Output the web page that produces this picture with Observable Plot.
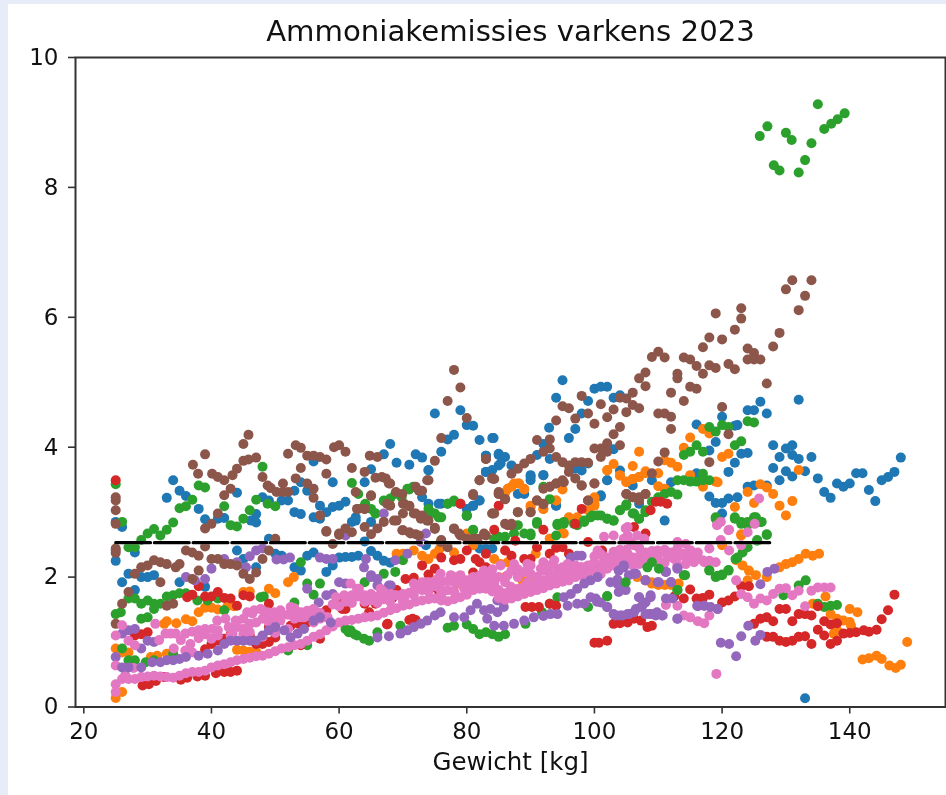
<!DOCTYPE html>
<html><head><meta charset="utf-8">
<script src="https://cdn.jsdelivr.net/npm/d3@7"></script>
<script src="https://cdn.jsdelivr.net/npm/@observablehq/plot@0.6"></script>
<style>
html,body{margin:0;background:#e6edf8;overflow:hidden}
#c{position:absolute;left:8px;top:4px;width:938px;height:791px;background:#fff}
#c svg{display:block;background:#fff;filter:blur(.6px)}
</style></head><body><div id="c"></div>
<script>
const chartTitle="Ammoniakemissies varkens 2023";
const xLabel="Gewicht [kg]";
const xTicks=[20,40,60,80,100,120,140];
const yTicks=[0,2,4,6,8,10];
const limit=[[25,2.53],[127,2.53],[128,2.53]];

const blue=[[25,2.85],[26,2.77],[33,3.22],[34,3.49],[35,3.33],[36,3.25],[38,3.05],[39,2.89],[41,2.9],[42,2.91],[44,3.3],[46.2,2.87],[47,2.97],[47,2.84],[48,3.23],[49,3.18],[51,3.18],[52,3.18],[53,3.33],[54,3.46],[55,3.33],[53,3.0],[54,2.97],[56,3.78],[56,2.92],[57,2.9],[57,3.1],[58,3.0],[59,3.46],[59,3.08],[60,3.1],[61,3.16],[62,2.85],[62.6,2.92],[64,3.46],[65,3.66],[65,2.85],[67,3.89],[68,4.05],[69,3.76],[71,3.73],[72,3.89],[73,3.84],[74,3.65],[75,4.52],[76,3.93],[77,4.12],[78,4.19],[79,4.57],[80,4.34],[81,4.33],[82,4.11],[84,4.14],[85,3.88],[83,3.87],[83,3.62],[84,3.65],[85,3.72],[73,3.23],[74,3.13],[76,3.13],[77,3.13],[80,2.94],[81,3.1],[82,3.18],
[95,5.03],[94,4.76],[92.9,4.3],[97,4.28],[96,4.14],[99,4.71],[100,4.9],[101,4.93],[102,4.93],[103,4.76],[104,4.8],[98,4.52],[84.2,4.14],[83,3.87],[85,3.9],[86,3.85],[85.3,3.75],[87,3.72],[88,3.28],[89,3.28],[90,3.57],[90,3.49],[91,3.88],[92,4.05],[92,3.57],[93,3.82],[97,3.67],[98,3.64],[99,3.75],[102,3.49],[104,3.64],[103,3.97],[101,3.24],[94,3.1],[109,3.49],[106,3.41],[107,3.13],[111,2.87],[119,4.08],[118,3.95],[116,4.35],[120,4.47],[122.4,4.34],[122,4.33],[124,4.57],[125,4.57],[126,4.7],[127,4.52],[132,4.73],[124,3.91],[123,3.9],[122,3.76],[121,3.62],[116,3.6],[112,3.46],[118,3.24],[119,3.14],[120,3.14],[121,3.21],[122.4,3.23],[124,3.39],[125,3.41],[127,3.41],[120,2.98],
[128,4.03],[129,3.85],[130,3.98],[131,4.03],[131,3.88],[132,3.82],[134,3.85],[128,3.68],[129,3.49],[130,3.63],[131,3.55],[133,3.63],[135,3.52],[136,3.31],[137,3.22],[138,3.44],[139,3.39],[140,3.44],[141,3.6],[142,3.6],[143,3.34],[144,3.17],[145,3.49],[146,3.54],[147,3.62],[148,3.84],[133,.135],
[25,2.25],[26,1.92],[27,2.05],[28,2.38],[28,1.8],[29,2],[30,2],[31,2.03],[35,1.92],[39,1.85],[44,2.41],[45,2.28],[47,2.15],[49,2.59],[50,2.36],[51,2.33],[53,2.15],[54,2.1],[55,2.33],[56,2.38],[58,2.08],[59,2.18],[60,2.3],[61,2.31],[62,2.31],[63,2.33],[65,2.4],[66,2.33],[67,2.25],[68,2.22],[62.6,2.87],[64,2.55],[74,3.64],[75.6,3.13],[79,3.13],[80,3.05],[81,3.1],[82,3.18],[83,3.62],[90,3.54],[92,3.57],[102,3.49],[94,3.1],[101,3.26],[73.6,2.49],[82,2.44],[83,2.44],[84,2.44]];

const orange=[[25,.14],[26,.23],[25,.9],[26,.84],[27,.84],[30.5,.77],[31.5,.79],[33,.82],[34,.82],[32.6,1.28],[33,1.32],[34.5,1.29],[36,1.35],[37,1.32],[38,1.46],[39,1.53],[40,1.53],[41,1.5],[42.5,1.55],[43.5,1.55],[45,1.77],[46,1.78],[49,1.82],[50,1.75],[52,1.92],[52.9,2],[44,.88],[45,.87],[46,.85],[47,.85],
[78.8,1.9],[69,2.36],[70,2.36],[71.7,2.41],[73,2.33],[74,2.28],[75,2.36],[75.7,2.43],[78,2.38],[80,2.67],[81,2.49],[84.3,2.28],[85.3,2.2],[86.4,2.23],[90.8,2.36],[93,2.59],[95.2,2.67],[96,2.92],[97.3,2.92],[99,3.03],[100,3.13],[100,3.23],[86.4,3.36],[87.4,3.44],[88.2,3.44],[89,3.36],[90,3.1],[92,3.05],[94,3.18],[102,3.64],[104,3.56],[105,3.46],[106,3.51],[107,3.54],[108,3.6],[88.7,1.95],[90,2.03],[86,2],[106.7,2],[108,1.95],[109,1.9],[110,1.88],[111,1.88],[112,1.88],[113.2,1.9],
[107,3.93],[102,3.65],[103,3.74],[104,3.57],[105,3.47],[106,3.71],[106,3.51],[107,3.54],[108,3.63],[110,3.6],[110,3.4],[111,3.36],[111,3.8],[112,3.76],[113,3.7],[114,3.99],[115,4.15],[117,4.28],[118,4.21],[119,3.47],[117,3.39],[115,3.57],[120,3.85],[121,3.9],[124,3.31],[126,3.43],[127,3.38],[128,3.28],[129,3.1],[130,2.95],[131,3.17],[122,3.08],[125,3.14],[132,3.65],[88,3.44],[87,3.39],[89,3.35],[86,3.3],[94,3.18],[95,3.35],[100,3.2],[100,3.1],[90,3.08],[92,3.05],[96,2.9],[95,2.68],[93,2.59],[123,2.64],
[135.2,2.36],[134.2,2.33],[133.1,2.36],[132,2.28],[131,2.23],[130,2.2],[129,2.15],[127,2],[125.3,2.03],[124.2,2.1],[123.2,2.18],[122.2,2.26],[124,1.95],[136.2,1.7],[134.2,1.59],[140,1.51],[141.2,1.46],[137,1.43],[138,1.36],[139,1.33],[140,1.31],[140.2,1.25],[138,1.18],[137.5,1.13],[142,.73],[143,.75],[144.2,.79],[145,.74],[146.2,.64],[147.2,.6],[148,.65],[149,1],[123,2.66],[120,2.49],[119.3,3.46],[109,1.92],[112,1.92]];

const green=[[25,3.43],[26,2.85],[25,1.43],[25.8,1.46],[27,2.46],[28,2.46],[29,2.57],[30,2.67],[31,2.74],[32,2.64],[33,2.73],[34,2.84],[35,3.06],[36,3.09],[37,3.19],[38,3.41],[39,3.38],[42,3.09],[43,2.8],[44,2.78],[45,2.9],[46,3.03],[47,3.19],[48,3.7],[48.8,3.13],[50,3.09],[62,3.45],[63,3.28],[64,3.1],[65.7,2.98],[67,3.17],[68,3.21],[69.8,3.23],[71,3.35],[71.6,3.39],[74,3.05],[75,2.98],[76,2.92],[77,3.13],[78,3.18],[80,2.95],[81,2.72],[85,2.62],
[27,1.67],[28,1.67],[29,1.59],[30,1.64],[31,1.59],[31,1.51],[32,1.59],[33,1.7],[34,1.72],[35,1.75],[36,1.75],[37.8,1.64],[39.4,1.64],[41,1.67],[42,1.49],[47.7,1.69],[48.2,1.7],[53,1.61],[54,2.23],[55,1.9],[57,1.9],[56,1.73],[26,.9],[29,1.36],[30,1.38],[27,.72],[28,.72],[29.7,.69],[31,.72],[34,.82],[52,.87],[55,.95],[61,1.2],[61.5,1.15],[62.4,1.12],[61.8,1.18],[62.8,1.1],[63.9,1.05],[64.7,1.02],[66,1.15],[69.6,1.25],[77,1.22],[78,1.25],[80,1.27],[81,1.2],[82,1.12],[83,1.15],[84,1.12],[85,1.08],[86,1.12],[89.2,1.28],[91.8,1.46],[93,1.59],[94.2,1.69],[102,1.7],[99,1.54],
[64.1,3.13],[65,3.05],[65.7,2.98],[67,3.18],[68.8,3.28],[70.7,3.36],[74.3,3],[75.6,2.92],[78,3.16],[80,2.95],[81,2.73],[84.3,2.59],[86,2.62],[87.4,2.67],[89,2.67],[90,2.67],[91,2.82],[94.2,2.8],[95.2,2.82],[96.8,2.82],[98.4,2.85],[99.4,2.92],[100.5,2.95],[102,2.9],[103,2.87],[104,3.03],[105,3.1],[106.2,2.98],[107,2.9],[108,3],[67,2.05],[68.8,2.08],[64,1.92],[70,2.26],[92,3.39],[93,3.2],
[114,3.88],[115,3.93],[116,4.03],[117,3.93],[118,4.31],[119,4.24],[120,4.34],[121,4.31],[124,4.4],[125,4.38],[122,4.03],[123,4.09],[113,3.49],[114,3.49],[115,3.47],[116,3.47],[117,3.59],[117,3.49],[118,3.49],[104,3.03],[105,3.12],[106,2.98],[107,2.9],[108,3.03],[109,3.16],[110,3.23],[111,3.28],[112,3.31],[113,3.27],[119,2.92],[122,2.92],[123,2.85],[124,2.8],[125,2.92],[126,2.85],[127,2.65],[125.5,2.57],[94.2,2.82],[95.2,2.85],[97.3,2.8],[98.4,2.87],[99.7,2.95],[101,2.95],[102,2.9],[103,2.87],[91,2.85],[88,2.8],[90,2.64],[94,2.64],
[127,2.66],[125.5,2.56],[124,2.46],[123.2,2.38],[122.4,2.3],[121,2.11],[120,2.04],[119,2],[118,2.11],[114,2.03],[113,1.8],[133.1,1.95],[132,1.87],[129.6,1.72],[135,1.59],[136,1.54],[137,1.56],[138,1.57],[119,2.9],[122,2.9],[123,2.82],[124,2.85],[125.3,2.92],[126.2,2.85],
[125.9,8.79],[127.1,8.94],[128.1,8.34],[129,8.26],[130,8.84],[130.9,8.73],[132,8.23],[133,8.42],[134,8.68],[135,9.28],[136,8.9],[137.1,8.98],[138.1,9.05],[139.2,9.14]];

const greenTop=[[110.1,2.13],[108.3,2.15],[109,2.23],[114.2,2.03],[118,2.1],[119.3,2.02],[120,2.03],[121,2.1],[113,1.8],[102,1.71],[104.9,1.92],[122.1,2.28]];

const red=[[25,3.49],[29.2,.33],[30.2,.35],[31.3,.4],[32.6,.46],[35.2,.42],[36.2,.45],[37.8,.47],[39,.48],[40.7,.52],[42,.54],[43,.54],[44,.56],[28,1.1],[29,1.12],[30,1.15],[36.2,1.69],[37,1.73],[38,1.86],[39,1.7],[40,1.7],[41,1.77],[42,1.68],[43,1.67],[44,1.56],[45,1.72],[46,1.7],[49,1.59],[39,.89],[40,.97],[41,1.02],[42,1.05],[43,1.12],[46,1.1],[47,.97],[48,.97],[49,1],[50,1.07],[49,1.23],[52.4,1.25],[53.7,1.28],[55,1.3],[57,1.05],[58,1.49],[61,1.51],[60,1.59],[54,.95],[60.5,1.51],[67.6,1.28],[71.5,1.36],
[62,1.69],[64.7,1.46],[65.7,1.59],[67,1.67],[68.3,1.67],[69,1.8],[70.4,1.97],[71.7,1.99],[73,2.18],[74,2.04],[75,2.13],[76,2.3],[78,2.26],[79,2.28],[80,2.41],[81.4,2.28],[82,2.23],[83,2.36],[83,2.15],[81,2.07],[86,2.41],[87,2.33],[89,2.28],[90,2.28],[91,2.46],[93,2.36],[94,2.45],[95,2.46],[96,2.36],[99,2.54],[101.2,2.41],[73.8,1.82],[75,1.84],[75.7,1.77],[67.5,1.27],[71,1.34],[72,1.34],[64,1.59],[84.3,2.73],[85,3.1],[92,2.73],[97,2.82],[98,3.05],[79,3.13],[89.2,1.54],[90.2,1.54],[91.3,1.54],[93,1.59],[94,1.56],[87.6,2.56],[88,1.79],[100,.99],[100.7,.99],[102,1.02],[103,1.28],[104,1.29],[105.2,1.3],[106.2,1.36],[107.3,1.33],[108.3,1.23],[109,1.25],[106.2,2.77],[108,2.67],
[110.4,3.16],[111.4,3.13],[108.8,3.03],[109.6,3.16],[115,1.81],[112.5,1.7],[114,1.67],[116,1.67],[117,1.68],[118,1.73],[120,1.61],[121,1.64],[122,1.7],[123,1.86],[124.2,1.86],[125,1.28],[126,1.36],[127,1.38],[128,1.32],[129,1.51],[130,1.51],[131,1.32],[132,1.43],[133,1.43],[134,1.41],[135,1.55],[135,1.19],[136,1.1],[136,1.32],[137,1.27],[138,1.29],[127,1.08],[128,1.08],[129,1.02],[130,1],[131,1.02],[132,1.08],[133,1.09],[134,.97],[137,.97],[138,1.02],[139,1.13],[140,1.14],[141,1.15],[142.2,1.18],[143,1.16],[144.2,1.19],[145,1.35],[146,1.49],[147,1.73]];

const purple=[[25,.77],[26,1.13],[27,1.18],[28,1.2],[29,.9],[30,1.02],[31,1],[36,2],[37.4,1.95],[39,1.97],[40,2.13],[42,2.28],[44,2.23],[45.4,2.15],[46,2.32],[47,2.41],[48,2.44],[50.2,2.27],[51.3,2.27],[52.3,2.3],[57,2.3],[58,2.28],[59,2.28],[55,1.82],[58,1.72],[59,1.74],[60,1.92],[61,1.9],[62.6,1.7],[61,2.64],[56.8,1.61],
[64.2,2.28],[63.9,2.15],[65,2],[66,1.87],[67,2.98],[67.8,1.87],[73.6,2.67],[72.8,2.54],[70.7,2.36],[68.8,2.26],[96.3,2.3],[97.3,2.33],[98,2.33],[85.8,1.54],[84.8,1.64],[65,2.03],[66,1.97],[68.1,1.87],[101,2.36]];

const purpleTop=[[26,.61],[27,.61],[29,.61],[30.7,.69],[32,.69],[33,.72],[34,.72],[35,.74],[36,.77],[38,.79],[39.4,.82],[41,.87],[42,.97],[43,1.02],[44,1.02],[45,1.02],[46,1.02],[47,1.02],[48,1.1],[49,1.18],[50,1.23],[51.4,1.18],[52.4,1.07],[53.5,1.13],[54.5,1.2],[56,1.33],[57,1.38],[58.7,1.3],
[66,1.07],[67.8,1.09],[69.6,1.13],[70.7,1.18],[71.7,1.23],[72.8,1.28],[73.8,1.33],[75,1.41],[75.9,1.46],[78,1.38],[79.6,1.38],[80.6,1.49],[81.6,1.59],[82.7,1.49],[83.7,1.51],[84.8,1.46],[83.2,1.36],[84.3,1.25],[85.8,1.25],[87.4,1.28],[89,1.33],[90.5,1.38],[92,1.4],[93.1,1.43],[94.2,1.43],[95.8,1.56],[95.2,1.69],[96.3,1.74],[97.3,1.82],[98.4,1.9],[99.4,1.95],[100.5,2],[97.3,1.59],[98.4,1.59],[100.2,1.67],[101,1.61],[102,1.54],[103,1.43],[104,1.41],[105.2,1.43],[106.2,1.46],[107,1.69],[108,1.61],[108.6,1.43],[103.6,1.9],[104.6,1.82],[105.4,2.03],[106.5,2.05],[104.6,2.15],[103.6,1.96],
[104.6,2.18],[103.8,2.1],[106.2,2.05],[108,1.95],[110.1,1.92],[112,1.92],[111.2,2.08],[113,2.13],[103.8,1.77],[104.9,1.8],[102.5,1.92],[99.4,1.69],[100.4,1.62],[102,1.54],[107,1.69],[108.8,1.72],[107.5,1.56],[106.5,1.51],[105.4,1.43],[103.3,1.41],[104.4,1.41],[109,1.43],[110.6,1.41],[109.8,1.46],[113,1.36],[116.1,1.56],[117.2,1.56],[119.3,1.51],
[107.3,1.54],[108,1.43],[108.8,1.69],[109.6,1.41],[110.7,1.41],[111.2,1.67],[112.2,1.67],[113,1.36],[116.2,1.55],[117.2,1.56],[118.2,1.54],[119.3,1.51],[111.2,2.08],[109.9,1.92],[108,1.95],[112,1.92],[113,2.14],[119.8,.99],[121.1,.97],[122.2,.78],[123,1.09],[124.1,1.25],[125.2,1.02],[126,1.11],[126,1.89],[127.1,2.08],[128.2,2.13]];

const brown=[[25,3.23],[25,3.18],[25,3.03],[25,2.82],[25,2.41],[37.1,3.73],[37.9,3.59],[39,3.89],[40.1,3.59],[41,3.54],[42,3.49],[43.3,3.57],[44,3.67],[45,4.05],[45.8,4.19],[45,3.79],[45.8,3.81],[47,3.84],[48,3.54],[48.8,3.41],[49.3,3.37],[50.2,3.31],[51.2,3.44],[51.2,3.31],[52,3.31],[52,3.9],[53.2,4.03],[54,3.99],[55,3.87],[56,3.87],[57,3.85],[58,3.81],[54,3.68],[53.2,3.52],[55,3.44],[56,3.36],[56,3.22],[58,3.59],[59.2,4],[60,4.03],[61,3.93],[62,3.68],[64,3.62],[64.8,3.87],[66,3.85],[65.7,3.53],[66.7,3.54],[67.8,3.44],[69.9,3.28],
[83,3.82],[84,3.52],[85,3.31],[86,3.2],[87,3.59],[88,3.67],[89,3.75],[90,3.82],[91,4.11],[93,4.12],[92,3.93],[93,3.98],[94,4.41],[94,3.85],[95,3.77],[95,4.63],[96,4.6],[96,3.72],[97,3.77],[97,4.44],[98,4.79],[98,3.77],[99,4.52],[99,3.76],[100,4.36],[101,4.66],[102,4.46],[103,4.58],[104,4.31],[103,4.2],[104,4.76],[105,4.75],[105,4.54],[106,4.84],[106,4.65],[107,4.6],[107,5.06],[108,5.15],[108,4.94],[109,5.39],[110,5.47],[111,5.38],[112,4.84],[113,5.13],[113,5.06],[114,5.38],[115,5.35],[116,5.25],[117,5.13],[118,5.26],[119,5.22],[115,4.93],[116,4.9],[114,4.71],[110,4.52],[111,4.52],[112,4.47],[112,4.28],[117,5.54],[118,5.69],[120,5.66],[119,6.06],[121,5.28],[122,5.2],[122,5.81],[123,5.98],[123,6.14],[120,4.62],[121,4.2],[124,5.52],[124,5.35],[125,5.45],[125,5.35],[126,5.35],[127,4.98],[128,5.55],[129,5.76],[130,6.43],[131,6.57],[132,6.11],[133,6.33],[134,6.57],
[101,3.98],[102,4.06],[100,3.98],[101,3.85],[102,3.93],[104,4.03],[100,3.44],[99,3.18],[98,3.41],[97,3.52],[96,3.62],[95,3.49],[94,3.44],[93,3.39],[92,3.36],[91,3.18],[92,3.12],[90,3],[88,3],[84,2.98],[86.4,2.8],[87,2.8],[105,3.28],[106,3.23],[107,3.18],[108,3.28],[109,3.6],[110,3.78],[111,3.92],[118,3.77],
[39,2.75],[40,2.82],[41,2.98],[42,3.26],[43,3.36],[57,2.95],[58,2.7],[60,2.65],[61,2.75],[62,2.69],[62.6,3.31],[63,3.05],[64,3.05],[64,2.77],[65,3.25],[65,2.66],[66,2.75],[67,2.85],[68,3.1],[69,2.87],[70,2.98],[70,2.72],[71,2.69],[72,2.98],[72,2.66],[73,2.95],[74,2.87],[75,2.76],[74,3.49],[75,3.79],[76,4.14],[77,4.71],[78,5.19],[79,4.92],[80,4.45],[81,3.28],[82,3.49],[83,3.82],[84,3.52],[84,2.98],[85,3.28],[76,2.57],[78,2.75],[79,2.64],[81,2.59],[83,2.64],[70,3.13],[71,3.09],[72,3.39],[73,3.33],
[25,2.44],[25,2.37],[26,1.59],[27,1.77],[28,2.05],[29,2.15],[30,2.18],[31,2.26],[32,2.23],[33,2.2],[34.4,2.15],[35,2.2],[36,2.41],[37,2.38],[38,2.33],[39,2.47],[40,2.28],[41,2.28],[42,2.2],[43,2.2],[44,2.18],[45,2.05],[46,1.97],[47,2.07],[48,2.28],[49,2.41],[50,2.59],[32,1.92],[37,1.97],[38,2.1],[33,1.56],[34,1.59],[25,1.28],[58,2.71],[59,2.51],[60,2.67],
[65,3.26],[64,3.05],[62.8,3.05],[67.3,3.52],[68,3.44],[68.9,3.31],[73.8,3.49],[67.5,3.13],[68.6,2.87],[70.2,3.13],[71,3.1],[72.5,3.33],[71.7,2.98],[72.8,2.9],[73.8,2.87],[75,2.74],[69.9,2.72],[71.2,2.67],[72.5,2.64],[78,2.74],[78.8,2.67],[75.9,2.54],[77,2.46],[81,3.26],[82,3.49],[84.3,3.51],[85,3.28],[86,3.2],[84.3,2.98],[88,3],[90,3],[91,3.18],[92,3.13],[93,3.39],[94,3.44],[95.2,3.46],[98,3.41],[99,3.18],[100,3.44],[105,3.28],[106,3.23],[107,3.23],[108,3.28],[86,2.82],[87,2.82],[82.7,2.67],[80,2.59],[81.7,2.59]];

const pink=[[25,.35],[25,.23],[26,.43],[27,.43],[28,.43],[29,.46],[30,.47],[31,.48],[32,.47],[33,.46],[34,.45],[35,.48],[36,.52],[37,.54],[38,.54],[39,.56],[40,.61],[41,.64],[42,.66],[43,.69],[44,.72],[45,.74],[46,.76],[47,.78],[48,.79],[49,.82],[50,.86],[51,.9],[52,.92],[53,.95],[54,.97],[55,1.02],[56,1.08],[57,1.12],[58,1.18],[59,1.24],[60,1.3],[61,1.33],[62,1.34],[63,1.36],[64,1.38],[65,1.39],[66,1.41],[67,1.45],[68,1.49],[69,1.52],[70,1.56],[71,1.58],[72,1.62],[73,1.64],[74,1.66],[75,1.67],[76,1.64],[77,1.63],[78,1.66],[79,1.69],[80,1.73],[81,1.8],[82,1.82],[83,1.82],[84,1.78],[85,1.68],[86,1.65],[87,1.67],[88,1.7],[89,1.74],[90,1.77],[91,1.8],[92,1.83],[93,1.87],[94,1.9],[95,1.93],[96,1.95],[97,2],[98,2.08],[99,2.12],[100,2.15],[101,2.18],[102,2.2],
[25,1.1],[25,.64],[26,1.26],[26.5,.49],[27,1.02],[27.8,.6],[28,.95],[31.2,1.28],[31.8,1.03],[32.8,1.13],[33.6,1.13],[34.4,1.13],[35.2,1.03],[35.9,1.13],[36.7,.97],[34.1,.9],[35.9,.87],[37,.84],[40.1,1.2],[40.9,1.33],[42.2,1.36],[43.8,1.33],[42.7,1.23],[43.3,1.13],[44,1.23],[45,1.2],[45.6,1.46],[46.4,1.44],[46.7,1.49],[47.7,1.51],[48,1.49],[48.8,1.46],[49.8,1.46],[50.8,1.49],[52.4,1.54],[53,1.46],[54,1.46],[55,1.48],[56,1.51],[57,1.45],[58.2,1.38],[59.5,1.69],[60.8,1.72],[61.8,1.9],[63.1,1.82],[64.7,1.67],[66.5,1.82],[68.1,1.74],[70.2,1.67],[71.7,1.9],[73.8,1.92],[75.4,1.97],[37,1.16],[38,1.18],[39,1.12],[41,1.1],[43,1.1],[45,1.12],[46,1.15],[48,1.08],[49.3,1.41],[50,1.14],[50.8,1.33],[52,1.2],[53,1.36],[54.5,1.38],[56,1.3],[58,1.38],[60,1.55],[62,1.6],[64,1.62],[66,1.6],[68,1.62],[70,1.63],[62.8,1.82],[65,1.74],[67,1.77],[68.6,1.72],[71.7,1.72],[73,1.92],[74.3,1.92],
[75.9,2.05],[77.5,2.03],[79,2.03],[80,1.95],[81,2],[82.7,2.1],[84,2.12],[85.3,2.18],[87.4,2.2],[89.5,2.2],[92,2.23],[93.7,2.26],[95.8,2.2],[97.9,2.15],[75.9,1.8],[78,1.92],[79.6,1.82],[81.1,1.92],[83,1.95],[84.3,1.9],[86.4,2.03],[86.9,1.85],[88,2],[89,2.08],[89.5,1.92],[91,2],[91.6,2.13],[92,1.95],[93,2.05],[94.2,2.13],[95.2,2.05],[96,2.12],[97,2.1],[98,2.02],[99,2.18],
[100,2.23],[101.5,2.28],[103.6,2.33],[105.2,2.36],[104.9,2.75],[105.7,2.54],[106.7,2.28],[108.3,2.36],[109.9,2.41],[111.4,2.33],[112.5,2.28],[114.5,2.28],[113,2.44],[115.1,2.41],[116.1,2.36],[118,2.44],[119,2.23],[117.2,2.23],[115.6,2.23],[121,2.72],[100.4,2.08],[102,2.13],[99.4,2.18],[103,2.18],[103,2.39],[106.2,2.49],[107.8,2.59],[105.2,2.64],[100.5,2.41],[101.5,2.62],[103,2.64],[104.6,2.59],[105.2,2.77],[106.7,2.64],[102,2.3],[104,2.32],[105,2.42],[107,2.45],[108,2.38],[112,2.31],[113,2.54],[114.3,2.51],[116.2,2.38],[119.8,2.57],[121.1,2.41],[123,2.49],[124,2.69],[125.1,2.82],[121.1,2.73],[119.2,2.8],[119.8,2.85],[125.8,3.21],[118,2.25],[117,2.26],[114.3,2.2],[113,2.18],[108.3,2.2],[110,2.25],[111,2.22],[104,2.18],[105,2.22],[106,2.18],[107,2.2],
[114,1.41],[115,1.38],[116.2,1.32],[117.2,1.29],[118,1.41],[111.2,1.57],[113,1.56],[122.2,1.95],[123,1.74],[124,1.69],[125,1.59],[126,1.67],[127,1.64],[128,1.74],[129,1.82],[130,1.83],[131,1.72],[132,1.79],[133,1.55],[134,1.79],[135,1.84],[136,1.84],[137,1.84],[119.1,.51]];

const pinkBand=[[76,1.72],[76,1.92],[77,1.8],[77,1.94],[78,1.78],[78,2],[79,1.9],[80,1.82],[81,1.88],[82,1.92],[82,2.02],[83,1.88],[83,2.06],[84,1.85],[84,2.02],[85,1.8],[85,2],[86,1.75],[86,1.92],[87,1.8],[87,2.1],[88,1.82],[88,2.12],[89,1.85],[90,1.88],[90,2.05],[90,2.18],[91,1.92],[92,2.1],[93,1.95],[93,2.18],[94,2.0],[95,2.15],[96,2.03],[97,2.18],[98,2.15],[99,2.05],[100,2.32],[101,2.05],[101,2.35],[102,2.22],[103,2.28],[104,2.25],[104,2.42],[105,2.3],[106,2.3],[107,2.32],[108,2.3],[109,2.3],[109,2.4],[110,2.35],[111,2.42],[112,2.38],[113,2.3],[114,2.36],[115,2.3],[116,2.28],
[38,1.06],[39,1.2],[40,1.05],[41,1.18],[44,1.32],[45,1.36],[46,1.28],[47,1.3],[48,1.36],[49,1.3],[50,1.38],[51,1.4],[52,1.42],[53,1.52],[54,1.38],[55,1.4],[56,1.42],[57,1.36],[59,1.58],[61,1.62],[62,1.72],[63,1.7],[64,1.72],[65,1.64],[66,1.7],[67,1.66],[68,1.7],[69,1.72],[70,1.74],[71,1.76],[72,1.82],[73,1.8],[74,1.78],[75,1.86]];

const series=[[blue,"#1f77b4"],[orange,"#ff7f0e"],[green,"#2ca02c"],[red,"#d62728"],[purple,"#9467bd"],[brown,"#8c564b"],[pink,"#e377c2"],[pinkBand,"#e377c2"],[purpleTop,"#9467bd"],[greenTop,"#2ca02c"]];
const font={fontFamily:"DejaVu Sans",fontSize:"23px",color:"#111"};
const plot=Plot.plot({
  width:938,height:791,marginLeft:67,marginRight:1,marginTop:53,marginBottom:88.5,
  style:font,
  x:{domain:[18.7,155],label:null},
  y:{domain:[0,10],label:null},
  marks:[
    ...series.map(([d,c])=>Plot.dot(d,{r:5,fill:c})),
    Plot.line(limit,{stroke:"#fff",strokeWidth:3}),
    Plot.line(limit,{stroke:"#000",strokeWidth:3.2,strokeDasharray:"34.8,3.9"}),
    Plot.frame({stroke:"#333",strokeWidth:2}),
    Plot.axisX({ticks:xTicks,tickSize:7,tickPadding:9,strokeWidth:1.6,stroke:"#333",fontSize:23,tickFormat:d=>String(d),label:null}),
    Plot.axisY({ticks:yTicks,tickSize:7,tickPadding:10,strokeWidth:1.6,stroke:"#333",fontSize:23,tickFormat:d=>String(d),label:null}),
    Plot.text([chartTitle],{frameAnchor:"top",dy:-37,fontSize:29.2,fill:"#111"}),
    Plot.text([xLabel],{frameAnchor:"bottom",dy:63,fontSize:24.5,fill:"#111"})
  ]
});
document.getElementById("c").appendChild(plot);
</script></body></html>
